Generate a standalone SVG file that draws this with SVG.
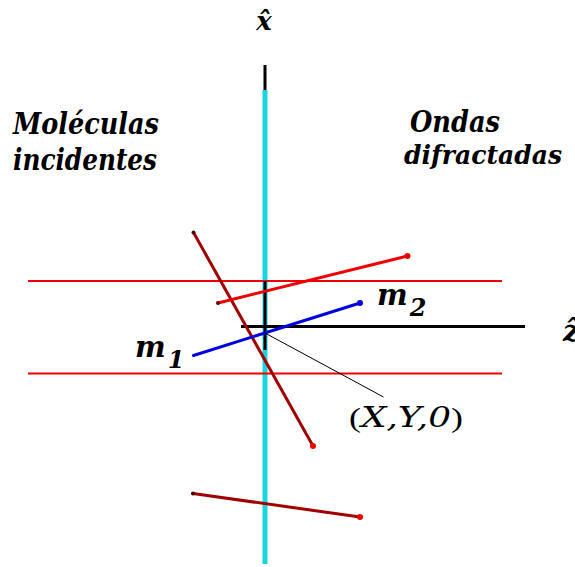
<svg xmlns="http://www.w3.org/2000/svg" width="575" height="567" viewBox="0 0 575 567">
<style>
.t{font-family:'DejaVu Serif',serif;font-style:italic;font-weight:700;fill:#000}
.p{font-family:'Liberation Serif',serif;fill:#000}
.i{font-family:'DejaVu Serif',serif;font-style:italic}
.hl{stroke:#ee0000;stroke-width:2;fill:none}
.dr{stroke:#a00000;stroke-width:3;fill:none;stroke-linecap:round}
.rd{stroke:#ee0000;stroke-width:3;fill:none;stroke-linecap:round}
.bl{stroke:#0000dd;stroke-width:3;fill:none;stroke-linecap:round}
.ax{stroke:#000;stroke-width:3;fill:none}
</style>
<rect width="575" height="567" fill="#fff"/>
<g id="axes">
<line x1="265" y1="65" x2="265" y2="92" class="ax"/>
<line x1="265" y1="90" x2="265" y2="564" stroke="#1ad4e0" stroke-width="5"/>
<line x1="28" y1="281" x2="502" y2="281" class="hl"/>
<line x1="28" y1="373.5" x2="502" y2="373.5" class="hl"/>
<line x1="265" y1="281" x2="265" y2="350" class="ax"/>
<line x1="241" y1="326.5" x2="525" y2="326.5" class="ax"/>
</g>
<g id="molecules">
<line x1="193.5" y1="232.5" x2="313" y2="446" class="dr"/>
<circle cx="193.5" cy="232.5" r="2" fill="#400"/>
<circle cx="313" cy="446" r="3" fill="#e00"/>
<line x1="218" y1="303" x2="407.5" y2="256" class="rd"/>
<circle cx="218" cy="303" r="2" fill="#700"/>
<circle cx="407.5" cy="256" r="3" fill="#e00"/>
<line x1="193.5" y1="355.5" x2="360" y2="303" class="bl"/>
<circle cx="360" cy="303" r="3" fill="#0000dd"/>
<line x1="193" y1="493.5" x2="360" y2="517" class="dr"/>
<circle cx="193" cy="493.5" r="2" fill="#400"/>
<circle cx="360" cy="517" r="3" fill="#e00"/>
</g>
<g id="connectors">
<line x1="265" y1="333" x2="383.5" y2="397" stroke="#000" stroke-width="1"/>
</g>
<g id="labels">
<text x="264" y="30" class="t" font-size="26" text-anchor="middle">x̂</text>
<text x="563" y="341" class="t" font-size="30">ẑ</text>
<text x="13" y="134" class="t" font-size="29" textLength="146" lengthAdjust="spacingAndGlyphs">Moléculas</text>
<text x="13" y="170" class="t" font-size="29" textLength="144" lengthAdjust="spacingAndGlyphs">incidentes</text>
<text x="410" y="132" class="t" font-size="29" textLength="90" lengthAdjust="spacingAndGlyphs">Ondas</text>
<text x="404" y="164" class="t" font-size="26" textLength="158" lengthAdjust="spacingAndGlyphs">difractadas</text>
<text x="135" y="357" class="t" font-size="29">m<tspan dx="2" dy="11" font-size="24">1</tspan></text>
<text x="377" y="305" class="t" font-size="29">m<tspan dx="2" dy="11" font-size="24">2</tspan></text>
<text x="349" y="427" class="p" font-size="28" textLength="114" lengthAdjust="spacingAndGlyphs">(<tspan class="i">X,Y,0</tspan>)</text>
</g>
</svg>
